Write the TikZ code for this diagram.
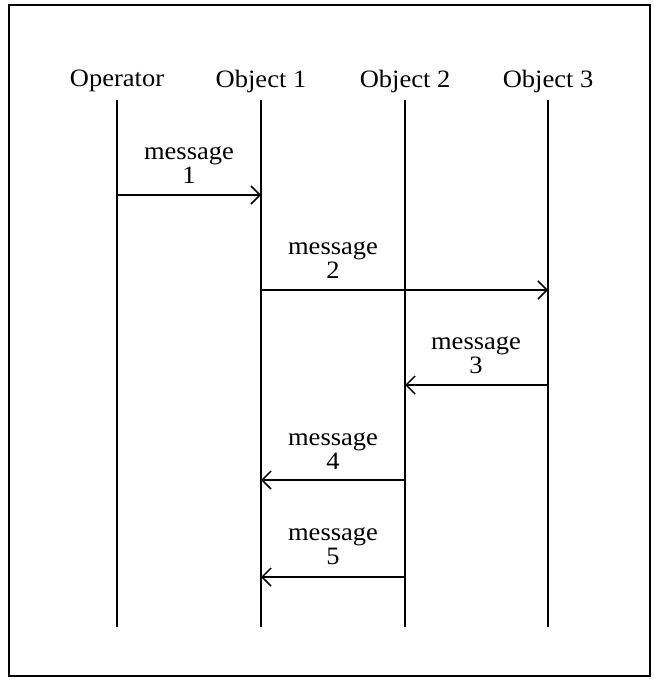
\documentclass[tikz,border=0pt]{standalone}
\usepackage{fontspec}
\setmainfont[FakeStretch=1.06]{Liberation Serif}
\usetikzlibrary{arrows.meta}
\begin{document}
\begin{tikzpicture}[x=1pt,y=-1pt,
  lbl/.style={font=\fontsize{25}{25}\selectfont, inner sep=0pt},
  life/.style={line width=1.8pt},
  msg/.style={line width=1.5pt, -{Straight Barb[length=9pt,width=18pt,line width=1.5pt]}},
  mtext/.style={font=\fontsize{25}{24}\selectfont, align=center, inner sep=0pt}]
\useasboundingbox (0,0) rectangle (653,679);
\draw[line width=2pt] (9,5) rectangle (650,676);
% heads
\node[lbl] (h0) at (117,81) {Operator};
\node[lbl] (h1) at (261,81) {Object 1};
\node[lbl] (h2) at (405,81) {Object 2};
\node[lbl] (h3) at (548,81) {Object 3};
\foreach \i/\x in {0/117,1/261,2/405,3/548}{
  \coordinate (t\i) at (\x,100);
  \coordinate (b\i) at (\x,627);
  \draw[life] (t\i) -- (b\i);
}
% message endpoints
\coordinate (m1a) at (117,195); \coordinate (m1b) at (261,195);
\coordinate (m2a) at (261,290); \coordinate (m2b) at (548,290);
\coordinate (m3a) at (548,385); \coordinate (m3b) at (405,385);
\coordinate (m4a) at (405,480); \coordinate (m4b) at (261,480);
\coordinate (m5a) at (405,577); \coordinate (m5b) at (261,577);
\draw[msg] (m1a) -- (m1b);
\draw[msg] (m2a) -- (m2b);
\draw[msg] (m3a) -- (m3b);
\draw[msg] (m4a) -- (m4b);
\draw[msg] (m5a) -- (m5b);
\node[mtext] (l1) at (189,165) {message\\1};
\node[mtext] (l2) at (333,260) {message\\2};
\node[mtext] (l3) at (476,355) {message\\3};
\node[mtext] (l4) at (333,451) {message\\4};
\node[mtext] (l5) at (333,546) {message\\5};
\end{tikzpicture}
\end{document}
